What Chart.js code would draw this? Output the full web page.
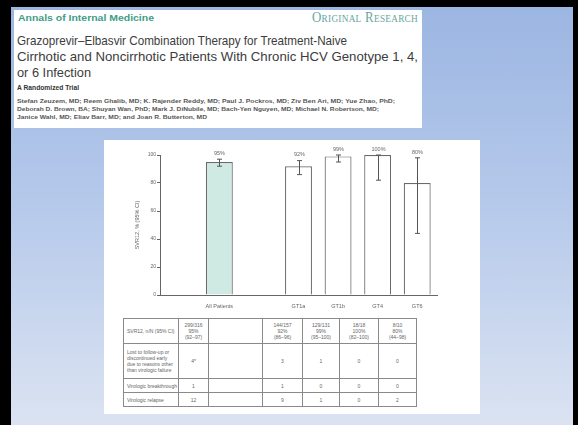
<!DOCTYPE html>
<html>
<head>
<meta charset="utf-8">
<script src="https://cdn.jsdelivr.net/npm/chart.js@4.4.1/dist/chart.umd.min.js"></script>
<style>
  html, body { margin:0; padding:0; }
  body { width:578px; height:425px; position:relative; overflow:hidden; background:#000; font-family:"Liberation Sans", Arial, sans-serif; }
  #slide { position:absolute; left:11px; top:7px; width:562px; height:418px;
           background:linear-gradient(to bottom, #9cb6e2 0%, #b4c8ea 45%, #dbe3f2 100%); }
  #header { position:absolute; left:14px; top:10px; width:408px; height:118px; background:#fff; overflow:hidden; }
  .t { position:absolute; white-space:nowrap; transform-origin:left center; line-height:1; }
  #chartBox { position:absolute; left:104px; top:140px; width:376px; height:274px; background:#fff; }
  #chartBox canvas { position:absolute; left:0; top:0; }
  table { position:absolute; border-collapse:collapse; font-size:5px; color:#666; table-layout:fixed; }
  td { border:1px solid #8a8a8a; text-align:center; vertical-align:middle; padding:0 1px; line-height:6px; }
  td.lab { text-align:left; padding-left:3px; }
</style>
</head>
<body>
<div id="slide"></div>
<div id="header">
  <div class="t" id="journal" style="left:4px;top:4px;font-size:9px;font-weight:bold;color:#3f9c88;">Annals of Internal Medicine</div>
  <div class="t" id="kind" style="left:298px;top:1px;font-size:14px;font-family:'Liberation Serif',serif;font-variant:small-caps;color:#67a6a0;letter-spacing:0.3px;">Original Research</div>
  <div class="t" id="l1" style="left:3px;top:24px;font-size:13px;color:#3c3c3c;">Grazoprevir–Elbasvir Combination Therapy for Treatment-Naive</div>
  <div class="t" id="l2" style="left:3px;top:40px;font-size:13px;color:#3c3c3c;">Cirrhotic and Noncirrhotic Patients With Chronic HCV Genotype 1, 4,</div>
  <div class="t" id="l3" style="left:3px;top:56px;font-size:13px;color:#3c3c3c;">or 6 Infection</div>
  <div class="t" id="l4" style="left:3px;top:74px;font-size:7.5px;font-weight:bold;color:#333;">A Randomized Trial</div>
  <div class="t" id="a1" style="left:3px;top:89px;font-size:5.5px;font-weight:bold;color:#555;">Stefan Zeuzem, MD; Reem Ghalib, MD; K. Rajender Reddy, MD; Paul J. Pockros, MD; Ziv Ben Ari, MD; Yue Zhao, PhD;</div>
  <div class="t" id="a2" style="left:3px;top:97px;font-size:5.5px;font-weight:bold;color:#555;">Deborah D. Brown, BA; Shuyan Wan, PhD; Mark J. DiNubile, MD; Bach-Yen Nguyen, MD; Michael N. Robertson, MD;</div>
  <div class="t" id="a3" style="left:3px;top:105px;font-size:5.5px;font-weight:bold;color:#555;">Janice Wahl, MD; Eliav Barr, MD; and Joan R. Butterton, MD</div>
</div>
<div id="chartBox">
  <canvas id="c" width="376" height="175"></canvas>
  <table id="tbl"></table>
</div>
<script>
// ---- data ----
const categories   = ["All Patients", "GT1a", "GT1b", "GT4", "GT6"];
const svrPct       = [95, 92, 99, 100, 80];
const ciLow        = [92, 86, 95, 82, 44];
const ciHigh       = [97, 96, 100, 100, 98];
const svrN         = [299, 144, 129, 18, 8];
const svrTotal     = [316, 157, 131, 18, 10];
const lostFollowUp = ["4*", "3", "1", "0", "0"];
const breakthrough = ["1", "1", "0", "0", "0"];
const relapse      = ["12", "9", "1", "0", "2"];
const yTicks       = [0, 20, 40, 60, 80, 100];
const yTitle       = "SVR12, % (95% CI)";
const rowLabels    = ["SVR12, n/N (95% CI)",
                      "Lost to follow-up or discontinued early due to reasons other than virologic failure",
                      "Virologic breakthrough", "Virologic relapse"];

// fit header text widths
const fits = {journal:136, kind:106, l1:330, l2:401, l3:74, l4:62, a1:378, a2:362, a3:190};
for (const id in fits) {
  const el = document.getElementById(id);
  const w = el.getBoundingClientRect().width;
  el.style.transform = 'scaleX(' + (fits[id] / w) + ')';
}

// axis with spacer slots: ["", All, "", GT...]
const axisLabels = ["", categories[0], ""].concat(categories.slice(1));
const idxMap = [1, 3, 4, 5, 6];
const barData = axisLabels.map(() => null);
const lowData = axisLabels.map(() => null);
const highData = axisLabels.map(() => null);
const fillColors = axisLabels.map(() => "#ffffff");
idxMap.forEach((k, i) => { barData[k] = svrPct[i]; lowData[k] = ciLow[i]; highData[k] = ciHigh[i]; });
fillColors[1] = "#cfe9e3";

const errorPlugin = {
  id: 'errs',
  afterDatasetsDraw(chart) {
    const ctx = chart.ctx, ys = chart.scales.y;
    const meta = chart.getDatasetMeta(0);
    ctx.save();
    ctx.strokeStyle = "#555"; ctx.lineWidth = 1;
    ctx.fillStyle = "#666"; ctx.font = "5.5px 'Liberation Sans', Arial"; ctx.textAlign = "center"; ctx.textBaseline = "bottom";
    barData.forEach((v, k) => {
      if (v === null) return;
      const x = Math.round(meta.data[k].x) + 0.5;
      const y1 = ys.getPixelForValue(lowData[k]), y2 = ys.getPixelForValue(highData[k]);
      ctx.beginPath();
      ctx.moveTo(x, y1); ctx.lineTo(x, y2);
      ctx.moveTo(x - 2.5, y1); ctx.lineTo(x + 2.5, y1);
      ctx.moveTo(x - 2.5, y2); ctx.lineTo(x + 2.5, y2);
      ctx.stroke();
      ctx.fillText(v + "%", x, y2 - 3);
    });
    ctx.restore();
  }
};

new Chart(document.getElementById('c'), {
  type: 'bar',
  data: {
    labels: axisLabels,
    datasets: [{
      data: barData,
      backgroundColor: fillColors,
      borderColor: "#6a6a6a",
      borderWidth: 1.2,
      categoryPercentage: 1,
      barPercentage: 0.68
    }]
  },
  options: {
    responsive: false,
    devicePixelRatio: 1,
    animation: false,
    layout: { padding: { left: 26, right: 43, top: 15, bottom: 0 } },
    plugins: { legend: { display: false }, tooltip: { enabled: false } },
    scales: {
      x: {
        grid: { display: false },
        border: { display: true, color: "#666", width: 1 },
        ticks: { color: "#666", font: { size: 5.5, family: "'Liberation Sans', Arial" }, padding: 0, maxRotation: 0, autoSkip: false },
        afterFit(s) { s.height = 20; }
      },
      y: {
        min: 0, max: 100,
        afterBuildTicks(s) { s.ticks = yTicks.map(v => ({ value: v })); },
        grid: { display: true, drawOnChartArea: false, drawTicks: true, tickLength: 3, color: "#666" },
        border: { display: true, color: "#666", width: 1 },
        ticks: { color: "#666", font: { size: 5, family: "'Liberation Sans', Arial" }, padding: 1 },
        title: { display: true, text: yTitle, color: "#666", font: { size: 5.5, family: "'Liberation Sans', Arial" }, padding: { top: 4, bottom: 0 } },
        afterFit(s) { s.width = 30; }
      }
    }
  },
  plugins: [errorPlugin]
});

// table (positions relative to chartBox: left 123-104=19, top 318-140=178)
const colW = [55, 30, 54, 40, 37, 39, 38];
const rowH = [25, 35, 14, 14];
const tbl = document.getElementById('tbl');
tbl.style.left = "19px"; tbl.style.top = "178px";
tbl.style.width = colW.reduce((a, b) => a + b, 0) + "px";
const cg = document.createElement('colgroup');
colW.forEach(w => { const c = document.createElement('col'); c.style.width = w + "px"; cg.appendChild(c); });
tbl.appendChild(cg);
const rows = [
  categories.map((c, i) => svrN[i] + "/" + svrTotal[i] + "<br>" + svrPct[i] + "%<br>(" + ciLow[i] + "–" + ciHigh[i] + ")"),
  lostFollowUp, breakthrough, relapse
];
rows.forEach((r, ri) => {
  const tr = document.createElement('tr');
  tr.style.height = rowH[ri] + "px";
  const cells = [rowLabels[ri], r[0], ""].concat(r.slice(1));
  cells.forEach((txt, ci) => {
    const td = document.createElement('td');
    td.innerHTML = txt;
    if (ci === 0) td.className = "lab";
    tr.appendChild(td);
  });
  tbl.appendChild(tr);
});
</script>
</body>
</html>
